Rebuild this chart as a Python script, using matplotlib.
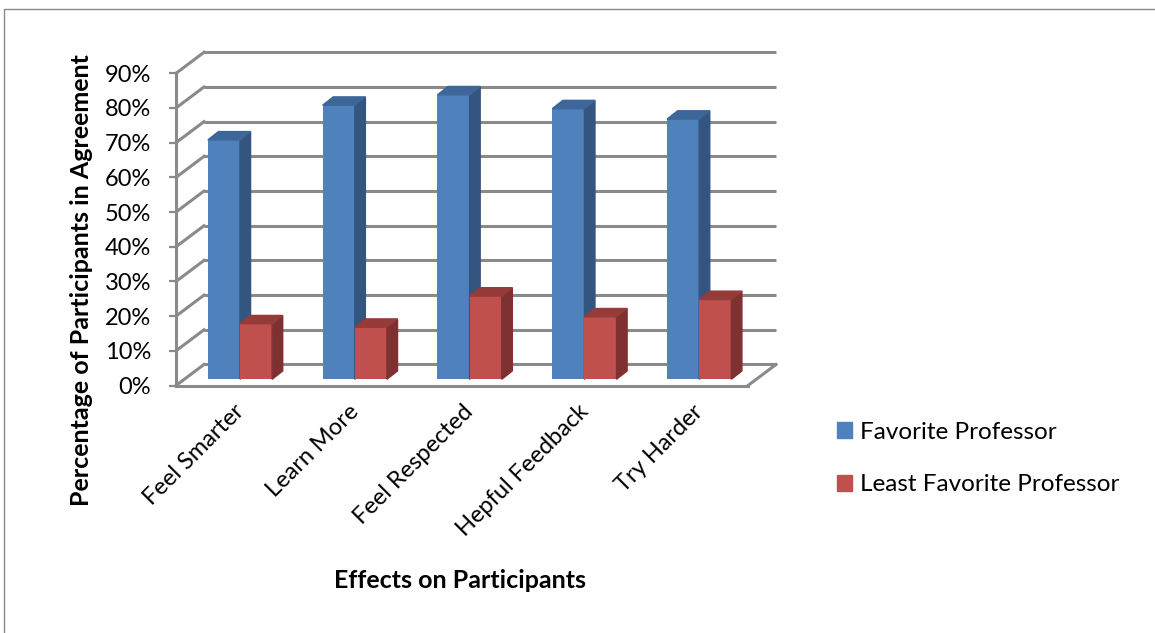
import matplotlib.pyplot as plt
from matplotlib.patches import Polygon, Rectangle
from matplotlib.transforms import ScaledTranslation
import numpy as np

plt.rcParams['font.family'] = ['Lato', 'DejaVu Sans']

# Data
categories = ['Feel Smarter', 'Learn More', 'Feel Respected', 'Hepful Feedback', 'Try Harder']
favorite = [69, 79, 82, 78, 75]
least_favorite = [16, 15, 24, 18, 23]
yticks = [0, 10, 20, 30, 40, 50, 60, 70, 80, 90]
ytick_labels = [f'{v}%' for v in yticks]

blue, blue_side, blue_top = '#4F81BD', '#34557F', '#3D6699'
red, red_side, red_top = '#C0504D', '#7E3130', '#953B38'
grid_col = '#8A8A8A'

fig = plt.figure(figsize=(11.55, 6.33), dpi=100)
ax = fig.add_axes([176 / 1155, 1 - 385.5 / 633, 572 / 1155, 312.2 / 633])
x0, x1 = -0.5575, 4.425
ax.set_xlim(x0, x1)
ax.set_ylim(0, 90)

# depth of the walls and of the bars (data units)
wdx, wdy = 0.244, 6.06
bdx, bdy = 0.092, 2.4
base = 1.8
w = 0.28

# back wall gridlines and side wall
for v in yticks:
    ax.plot([x0 + wdx, x1 + wdx], [v + wdy, v + wdy], color=grid_col, lw=2.2,
            clip_on=False, zorder=1, solid_capstyle='butt')
    ax.plot([x0, x0 + wdx], [v, v + wdy], color=grid_col, lw=2.2,
            clip_on=False, zorder=1)
# floor right edge
ax.plot([x1, x1 + wdx], [0, wdy], color=grid_col, lw=2.2, clip_on=False, zorder=1)


def bar3d(xl, h, front, side, top):
    xr = xl + w
    ax.bar(xl, h, w, bottom=base, align='edge', color=front, zorder=3,
           clip_on=False)
    t = base + h
    ax.add_patch(Polygon([(xr, base), (xr + bdx, base + bdy), (xr + bdx, t + bdy),
                          (xr, t)], closed=True, color=side, zorder=3, clip_on=False))
    ax.add_patch(Polygon([(xl, t), (xr, t), (xr + bdx, t + bdy), (xl + bdx, t + bdy)],
                         closed=True, color=top, zorder=3, clip_on=False))


x = np.arange(len(categories))
for i in x:
    bar3d(i - w, favorite[i], blue, blue_side, blue_top)
    bar3d(i, least_favorite[i], red, red_side, red_top)

for s in ['top', 'right']:
    ax.spines[s].set_visible(False)
for s in ['left', 'bottom']:
    ax.spines[s].set_color(grid_col)
    ax.spines[s].set_linewidth(2.2)

ax.set_yticks(yticks, ytick_labels)
ax.tick_params(axis='y', direction='out', length=5, width=1.6, color=grid_col,
               pad=13, labelsize=17)
ax.set_xticks(x, categories)
ax.tick_params(axis='x', length=0, pad=11, labelsize=17)
shift = ScaledTranslation(-7 / 100, 0, fig.dpi_scale_trans)
for lab in ax.get_xticklabels():
    lab.set_rotation(45)
    lab.set_ha('right')
    lab.set_va('top')
    lab.set_rotation_mode('anchor')
    lab.set_transform(lab.get_transform() + shift)

fig.text(82 / 1155, 1 - 280 / 633, 'Percentage of Participants in Agreement',
         rotation=90, ha='center', va='center', fontsize=18, fontweight='bold')
fig.text(460 / 1155, 1 - 580 / 633, 'Effects on Participants',
         ha='center', va='center', fontsize=18, fontweight='bold')

h1 = Rectangle((0, 0), 1, 1, color=blue)
h2 = Rectangle((0, 0), 1, 1, color=red)
fig.legend([h1, h2], ['Favorite Professor', 'Least Favorite Professor'],
           loc='upper left', bbox_to_anchor=(815 / 1155, 1 - 400 / 633),
           frameon=False, fontsize=17.5, handlelength=0.62, handleheight=0.62,
           handletextpad=0.35, labelspacing=1.3)

# outer border
fig.patches.append(Rectangle((4 / 1155, -0.1), 1.2, 1.1 - 9 / 633,
                             transform=fig.transFigure, fill=False,
                             edgecolor='#888888', lw=1.0))

fig.savefig('out.png', dpi=100)
